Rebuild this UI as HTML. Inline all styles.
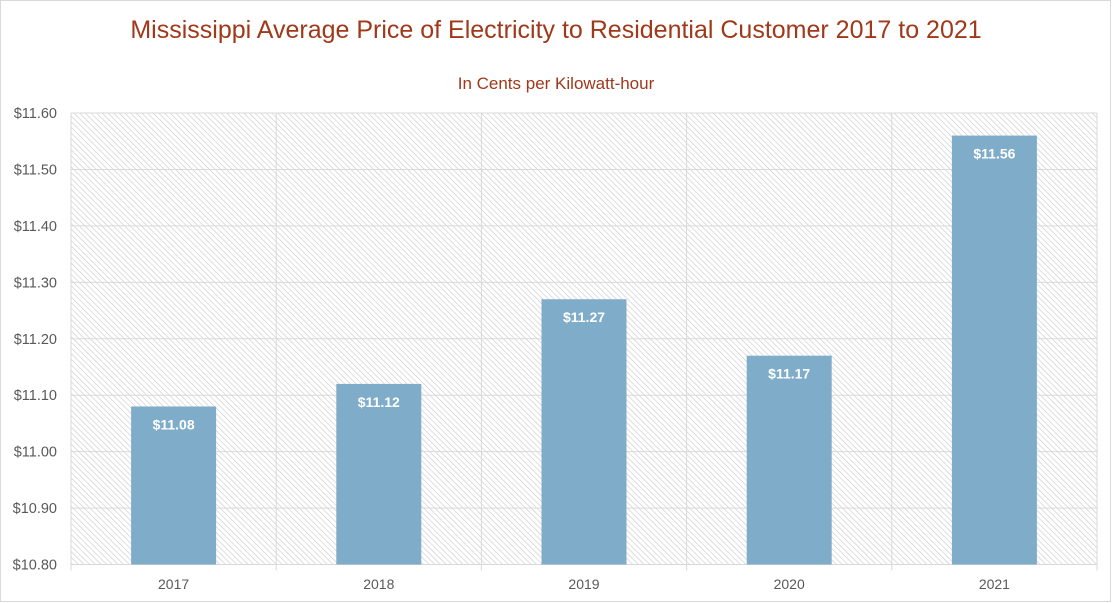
<!DOCTYPE html>
<html><head><meta charset="utf-8"><style>
html,body{margin:0;padding:0;background:#fff;}
svg{display:block;font-family:"Liberation Sans",Calibri,sans-serif;}
</style></head><body>
<svg id="chart" width="1112" height="603">
<defs>
<pattern id="hatch" width="4" height="4" patternUnits="userSpaceOnUse" patternTransform="rotate(-45)">
<rect width="4" height="4" fill="#fff"/>
<line x1="0" y1="0" x2="0" y2="4" stroke="#c8c8c8" stroke-width="1.2"/>
</pattern>
</defs>
<rect x="0.5" y="0.5" width="1110" height="601" fill="#fff" stroke="#d9d9d9"/>
<text x="556" y="38" text-anchor="middle" font-size="25" fill="#a0381a">Mississippi Average Price of Electricity to Residential Customer 2017 to 2021</text>
<text x="556" y="89" text-anchor="middle" font-size="17" fill="#a0381a">In Cents per Kilowatt-hour</text>
<rect x="71" y="113" width="1026" height="451.5" fill="url(#hatch)"/>
<g id="grid"></g><g id="bars"></g><g id="labels"></g>
</svg>
<script>
const categories = ["2017","2018","2019","2020","2021"];
const values = [11.08, 11.12, 11.27, 11.17, 11.56];
const valueLabels = ["$11.08","$11.12","$11.27","$11.17","$11.56"];
const ticks = [10.8,10.9,11.0,11.1,11.2,11.3,11.4,11.5,11.6];
const tickLabels = ["$10.80","$10.90","$11.00","$11.10","$11.20","$11.30","$11.40","$11.50","$11.60"];

const L=71, R=1097, T=113, B=564.5, yMin=10.8, yMax=11.6;
const NS="http://www.w3.org/2000/svg";
const y = v => B - (v - yMin) / (yMax - yMin) * (B - T);
const band = (R - L) / categories.length;
const x = i => L + band * i;
function mk(tag, attrs, parent){const e=document.createElementNS(NS,tag);for(const k in attrs)e.setAttribute(k,attrs[k]);document.getElementById(parent).appendChild(e);return e;}

ticks.forEach((t,i)=>{
  const g=mk("line",{x1:L,x2:R,y1:y(t),y2:y(t),stroke:"#d9d9d9","stroke-width":1},"grid");
  
  
  const lb=mk("text",{x:57,y:y(t)+5,"text-anchor":"end","font-size":14.5,fill:"#595959"},"labels");
  lb.textContent=tickLabels[i];
  
  
});
for(let i=0;i<=categories.length;i++){
  const g=mk("line",{x1:x(i),x2:x(i),y1:T,y2:B+6,stroke:"#d9d9d9","stroke-width":1},"grid");
  
  
}
const bw = 85;
categories.forEach((c,i)=>{
  const cx = x(i) + band/2;
  const b=mk("rect",{x:cx-bw/2,y:y(values[i]),width:bw,height:B-y(values[i]),fill:"#7facc9"},"bars");
  
  
  const v=mk("text",{x:cx,y:y(values[i])+23,"text-anchor":"middle","font-size":14,"font-weight":"bold",fill:"#fff"},"labels");
  v.textContent=valueLabels[i];
  
  
  const xl=mk("text",{x:cx,y:589,"text-anchor":"middle","font-size":14,fill:"#595959"},"labels");
  xl.textContent=c;
  
  
});
</script>
</body></html>
